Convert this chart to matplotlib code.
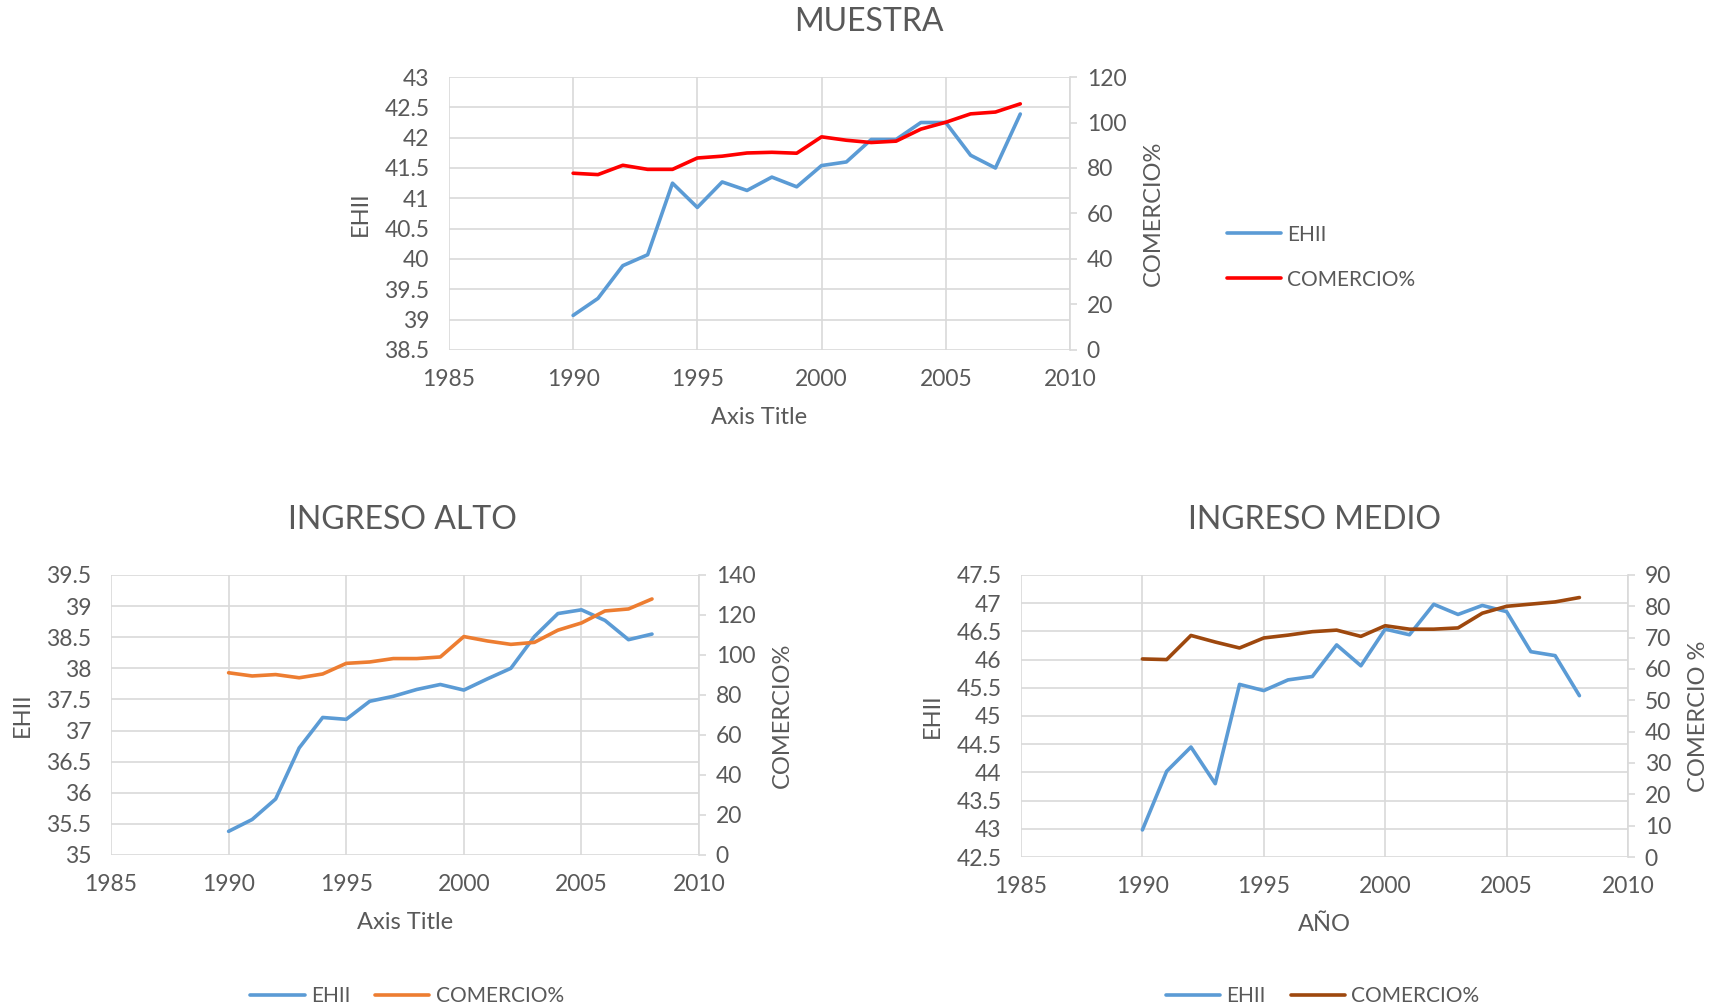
import matplotlib
matplotlib.use("Agg")
from matplotlib import pyplot as plt

plt.rcParams['font.family'] = ['Lato', 'DejaVu Sans']

years = list(range(1990, 2009))

# MUESTRA
ehii_muestra = [39.07, 39.35, 39.89, 40.07, 41.25, 40.85, 41.27, 41.13, 41.35, 41.19,
                41.54, 41.60, 41.97, 41.97, 42.25, 42.25, 41.71, 41.50, 42.39]
com_muestra = [77.7, 77.1, 81.2, 79.4, 79.4, 84.4, 85.2, 86.6, 86.9, 86.5,
               93.7, 92.2, 91.2, 91.8, 97.1, 100.1, 103.8, 104.6, 108.2]

# INGRESO ALTO
ehii_alto = [35.38, 35.57, 35.90, 36.72, 37.21, 37.18, 37.47, 37.55, 37.66, 37.74,
             37.65, 37.83, 38.00, 38.51, 38.88, 38.94, 38.77, 38.46, 38.55]
com_alto = [91.1, 89.5, 90.2, 88.6, 90.5, 95.8, 96.5, 98.2, 98.2, 99.0,
            109.2, 107.0, 105.3, 106.3, 112.4, 116.0, 122.0, 123.0, 128.0]

# INGRESO MEDIO
ehii_medio = [42.98, 44.02, 44.45, 43.80, 45.56, 45.45, 45.64, 45.70, 46.26, 45.89,
              46.54, 46.44, 46.98, 46.80, 46.96, 46.85, 46.14, 46.07, 45.36]
com_medio = [63.2, 63.0, 70.7, 68.6, 66.7, 69.9, 70.8, 71.9, 72.4, 70.4,
             73.8, 72.7, 72.7, 73.1, 77.8, 80.0, 80.7, 81.4, 82.8]

xticks = [1985, 1990, 1995, 2000, 2005, 2010]
txt = '#595959'
grid = '#d9d9d9'
blue = '#5B9BD5'
fs = 16.5


def fmt(v):
    return ('%g' % v)


def panel(rect, title, tx, ehii, com, ylim, ystep, rlim, rstep, color, xlabel, rlabel):
    ax = fig.add_axes(rect)
    ax2 = ax.twinx()
    l1, = ax.plot(years, ehii, color=blue, lw=2.6, solid_capstyle='round', label='EHII', zorder=3)
    l2, = ax2.plot(years, com, color=color, lw=2.6, solid_capstyle='round', label='COMERCIO%', zorder=3)
    ax.set_xlim(1985, 2010)
    ax.set_ylim(*ylim)
    n = int(round((ylim[1] - ylim[0]) / ystep))
    yt = [ylim[0] + i * ystep for i in range(n + 1)]
    ax.set_yticks(yt)
    ax.set_yticklabels([fmt(v) for v in yt])
    ax.set_xticks(xticks)
    ax2.set_ylim(*rlim)
    m = int(round((rlim[1] - rlim[0]) / rstep))
    rt = [rlim[0] + i * rstep for i in range(m + 1)]
    ax2.set_yticks(rt)
    ax2.set_yticklabels([fmt(v) for v in rt])
    ax.grid(True, color=grid, lw=1.2)
    ax.set_axisbelow(True)
    for a in (ax, ax2):
        for s in a.spines.values():
            s.set_visible(False)
    ax2.spines['right'].set_visible(True)
    ax2.spines['right'].set_color(grid)
    ax2.spines['right'].set_linewidth(1.2)
    ax.tick_params(axis='y', length=0, labelsize=fs, colors=txt, pad=14)
    ax.tick_params(axis='x', length=0, labelsize=fs, colors=txt, pad=14)
    ax2.tick_params(axis='y', length=5, width=1.2, color=grid, labelsize=fs, labelcolor=txt, pad=7)
    fig.text(tx[0], tx[1], title, fontsize=23, color=txt, ha='center', va='center')
    ax.set_xlabel(xlabel, fontsize=17, color=txt, labelpad=12)
    ax.set_ylabel('EHII', fontsize=17, color=txt, labelpad=10)
    ax2.set_ylabel(rlabel, fontsize=17, color=txt, labelpad=12)
    return ax, l1, l2


fig = plt.figure(figsize=(17.18, 10.08), dpi=100)

ax, l1, l2 = panel([0.2613, 0.6528, 0.3615, 0.2708], 'MUESTRA', (0.506, 0.978),
                   ehii_muestra, com_muestra,
                   (38.5, 43), 0.5, (0, 120), 20, '#FF0000', 'Axis Title', 'COMERCIO%')
fig.legend([l1, l2], ['EHII', 'COMERCIO%'], loc='center left', bbox_to_anchor=(0.703, 0.745),
           frameon=False, fontsize=15, labelcolor=txt, handlelength=2.6, labelspacing=1.2,
           handletextpad=0.3)

ax, l1, l2 = panel([0.0646, 0.1518, 0.3423, 0.2778], 'INGRESO ALTO', (0.234, 0.484),
                   ehii_alto, com_alto,
                   (35, 39.5), 0.5, (0, 140), 20, '#ED7D31', 'Axis Title', 'COMERCIO%')
fig.legend([l1, l2], ['EHII', 'COMERCIO%'], loc='center', bbox_to_anchor=(0.237, 0.012),
           frameon=False, fontsize=15, labelcolor=txt, ncol=2, handlelength=2.6,
           handletextpad=0.3, columnspacing=1.2)

ax, l1, l2 = panel([0.5943, 0.1498, 0.3533, 0.2798], 'INGRESO MEDIO', (0.765, 0.484),
                   ehii_medio, com_medio,
                   (42.5, 47.5), 0.5, (0, 90), 10, '#9E480E', 'AÑO', 'COMERCIO %')
fig.legend([l1, l2], ['EHII', 'COMERCIO%'], loc='center', bbox_to_anchor=(0.77, 0.012),
           frameon=False, fontsize=15, labelcolor=txt, ncol=2, handlelength=2.6,
           handletextpad=0.3, columnspacing=1.2)

fig.savefig('out.png', dpi=100, facecolor='white')
